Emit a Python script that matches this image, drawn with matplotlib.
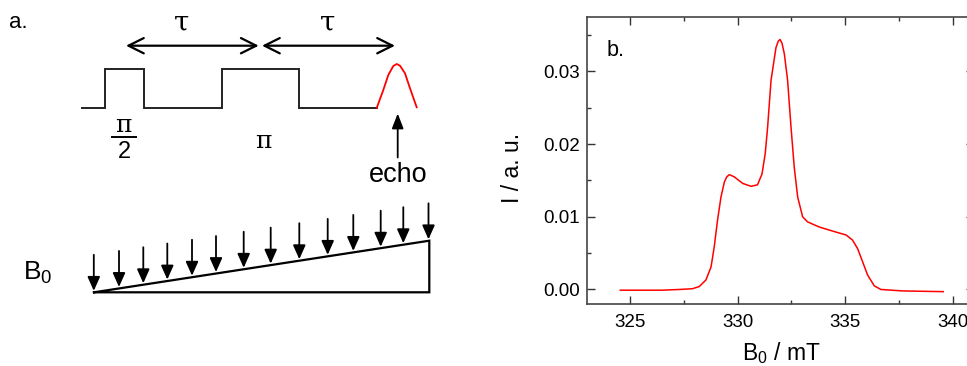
import matplotlib
matplotlib.use('Agg')
import matplotlib.pyplot as plt
from matplotlib.ticker import MultipleLocator

# ---------------- data: EPR echo-detected spectrum (panel b) ----------------
field_mT = [324.55, 325.5, 326.5, 327.3, 327.9, 328.22, 328.53, 328.77, 328.92,
            329.07, 329.23, 329.39, 329.5, 329.62, 329.85, 330.24, 330.63,
            330.93, 331.14, 331.29, 331.40, 331.56, 331.79, 331.9, 331.98,
            332.07, 332.18, 332.33, 332.49, 332.64, 332.80, 333.03, 333.26,
            333.80, 334.24, 334.58, 335.05, 335.35, 335.59, 335.82, 336.05,
            336.36, 336.67, 337.68, 338.6, 339.57]
intensity = [-0.0001, -0.0001, -0.0001, 0.0000, 0.0001, 0.0004, 0.0013, 0.0031,
             0.0059, 0.0095, 0.0127, 0.0148, 0.0155, 0.0158, 0.0155, 0.0146,
             0.0142, 0.0144, 0.0159, 0.0187, 0.0223, 0.0288, 0.0333, 0.0342,
             0.0344, 0.0339, 0.0324, 0.0288, 0.0223, 0.0168, 0.0127, 0.0100,
             0.0093, 0.0086, 0.0082, 0.0079, 0.0075, 0.0068, 0.0056, 0.0038,
             0.0020, 0.0005, 0.0000, -0.0002, -0.00025, -0.0003]
x_ticks = [325, 330, 335, 340]
y_ticks = [0.00, 0.01, 0.02, 0.03]
y_tick_labels = ['0.00', '0.01', '0.02', '0.03']

# ---------------- schematic (panel a), figure pixel coordinates ----------------
pulse_x = [81.7, 105.3, 105.3, 144, 144, 221.7, 221.7, 299, 299, 376.7]
pulse_y = [108.3, 108.3, 68.7, 68.7, 108, 108, 68.7, 68.7, 108, 108]
echo_x = [376.7, 383.3, 388.3, 393.3, 396.7, 400, 405, 410, 416.7]
echo_y = [108, 90, 75, 66, 64, 65.7, 73.3, 88.3, 107.3]
b0_arrow_x = [93.8, 119, 143.3, 167.3, 192, 216, 243.7, 270.7, 299.3, 327.7,
              353.3, 380.7, 403.3, 428.5]

plt.rcParams['font.family'] = ['Liberation Sans', 'DejaVu Sans']
plt.rcParams['mathtext.fontset'] = 'custom'
plt.rcParams['mathtext.rm'] = 'Liberation Sans'

W, H = 967, 366
fig = plt.figure(figsize=(W / 100, H / 100), dpi=100)

# ---- panel a: drawing axes spanning whole figure in pixel units ----
axd = fig.add_axes([0, 0, 1, 1])
axd.set_xlim(0, W)
axd.set_ylim(H, 0)
axd.axis('off')

axd.plot(pulse_x, pulse_y, color='#222222', lw=1.4, solid_joinstyle='miter')
axd.plot(echo_x, echo_y, color='red', lw=1.3)

arrow_kw = dict(arrowstyle='<->,head_length=1.1,head_width=0.55',
                color='black', lw=1.6, mutation_scale=10, shrinkA=0, shrinkB=0)
axd.annotate('', xy=(258.7, 45.7), xytext=(126, 45.7), arrowprops=arrow_kw)
axd.annotate('', xy=(395, 45.7), xytext=(262, 45.7), arrowprops=arrow_kw)

greek = ['DejaVu Serif', 'Liberation Serif']
axd.text(181.7, 23, 'τ', fontsize=20, family=greek, ha='center', va='center')
axd.text(328, 23, 'τ', fontsize=20, family=greek, ha='center', va='center')

axd.text(18, 22, 'a.', fontsize=16, ha='center', va='center')

# pi/2 fraction
axd.text(123.5, 125, 'π', fontsize=18, family=greek, ha='center', va='center')
axd.plot([111.7, 135.7], [136.7, 136.7], color='black', lw=1.4)
axd.text(124, 151.5, '2', fontsize=17, ha='center', va='center')
axd.text(263, 141.5, 'π', fontsize=18, family=greek, ha='center', va='center')

# echo arrow
axd.annotate('', xy=(397.7, 113.5), xytext=(397.7, 157.5),
             arrowprops=dict(arrowstyle='-|>,head_length=0.9,head_width=0.35',
                             color='black', lw=1.3, mutation_scale=10,
                             shrinkA=0, shrinkB=0))
axd.text(398, 175, 'echo', fontsize=19.5, ha='center', va='center')

# B0 gradient triangle
tri_x0, tri_y0 = 94, 292.3
tri_x1, tri_y1 = 429.3, 240.7
axd.plot([tri_x0, tri_x1, tri_x1, tri_x0], [tri_y0, tri_y1, tri_y0, tri_y0],
         color='black', lw=1.6, solid_joinstyle='miter')
slope = (tri_y1 - tri_y0) / (tri_x1 - tri_x0)
for xa in b0_arrow_x:
    yt = tri_y0 + slope * (xa - tri_x0) - 1.5
    axd.annotate('', xy=(xa, yt), xytext=(xa, yt - 36),
                 arrowprops=dict(arrowstyle='-|>,head_length=0.85,head_width=0.38',
                                 color='black', lw=1.3, mutation_scale=10,
                                 shrinkA=0, shrinkB=0))
axd.text(23, 273, r'B$_\mathregular{0}$', fontsize=19, ha='left', va='center')

# ---- panel b: spectrum ----
x_min, x_max = 323, 341
y_min, y_max = -0.002, 0.0375
left_px, right_px, top_px, bottom_px = 587, 974, 17, 304
ax = fig.add_axes([left_px / W, 1 - bottom_px / H,
                   (right_px - left_px) / W, (bottom_px - top_px) / H])
ax.plot(field_mT, intensity, color='red', lw=1.1)
ax.set_xlim(x_min, x_max)
ax.set_ylim(y_min, y_max)
ax.set_xticks(x_ticks)
ax.set_yticks(y_ticks)
ax.set_yticklabels(y_tick_labels)
ax.xaxis.set_minor_locator(MultipleLocator(2.5))
ax.yaxis.set_minor_locator(MultipleLocator(0.005))
ax.tick_params(which='both', direction='in', top=True, right=True,
               labelsize=13.5, color='#333333', width=1.0)
ax.tick_params(which='major', length=5.5, pad=5)
ax.tick_params(which='minor', length=3)
ax.tick_params(axis='x', which='major', pad=7)
for s in ax.spines.values():
    s.set_color('#444444')
    s.set_linewidth(1.2)
ax.set_xlabel(r'B$_\mathregular{0}$ / mT', fontsize=16.5)
ax.set_ylabel('I / a. u.', fontsize=16.5)
ax.xaxis.set_label_coords((781.7 - left_px) / (right_px - left_px),
                          (bottom_px - 340) / (bottom_px - top_px))
ax.yaxis.set_label_coords((524 - left_px) / (right_px - left_px),
                          (bottom_px - 168) / (bottom_px - top_px))
ax.text((607 - left_px) / (right_px - left_px), (bottom_px - 51) / (bottom_px - top_px),
        'b.', fontsize=15.5, transform=ax.transAxes, ha='left', va='center')

fig.savefig('out.png', dpi=100)
